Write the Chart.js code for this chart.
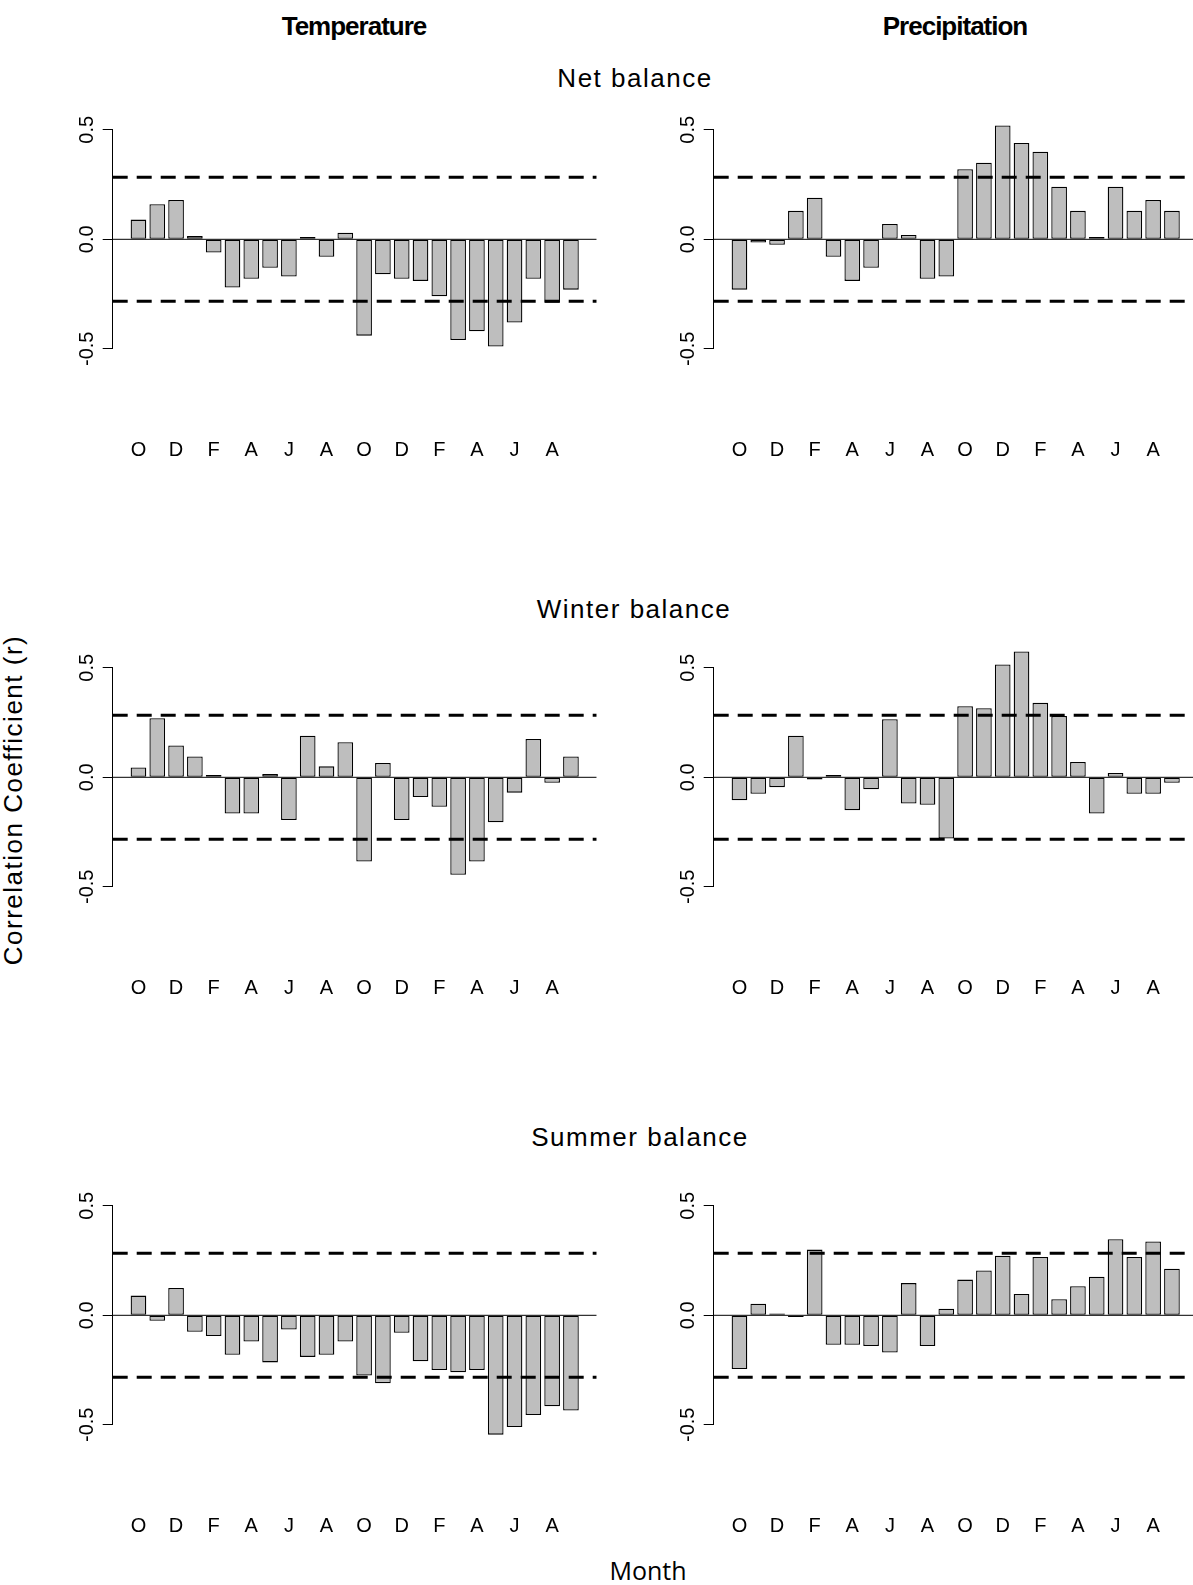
<!DOCTYPE html>
<html>
<head>
<meta charset="utf-8">
<title>Mass balance vs monthly climate</title>
<script src="https://cdn.jsdelivr.net/npm/chart.js@4.4.1/dist/chart.umd.min.js"></script>
<style>
  html, body { margin: 0; padding: 0; background: #fff; overflow: hidden; }
  body { position: relative; width: 1193px; height: 1585px; font-family: 'Liberation Sans', Arial, sans-serif; color: #000; }
  canvas { position: absolute; }
  .lbl { position: absolute; white-space: nowrap; line-height: 1; transform: translateX(-50%); }
  .col { font-weight: bold; font-size: 26px; letter-spacing: -1px; }
  .row { font-size: 26px; letter-spacing: 1.5px; }
  .ylab { position: absolute; white-space: nowrap; line-height: 1; font-size: 26px; letter-spacing: 1.5px;
          transform: translate(-50%, -50%) rotate(-90deg); }
  .xlab { font-family: 'Open Sans', 'Noto Sans', sans-serif; font-size: 25px; }
</style>
</head>
<body>
<div class="lbl col" style="left:354px; top:13px;">Temperature</div>
<div class="lbl col" style="left:955px; top:13px;">Precipitation</div>
<div class="lbl row" style="left:635px; top:65px;">Net balance</div>
<div class="lbl row" style="left:634px; top:596px;">Winter balance</div>
<div class="lbl row" style="left:640px; top:1124px;">Summer balance</div>
<div class="ylab" style="left:13px; top:800px;">Correlation Coefficient (r)</div>
<div class="lbl xlab" style="left:648px; top:1558px;">Month</div>

<canvas id="netT"></canvas>
<canvas id="netP"></canvas>
<canvas id="winT"></canvas>
<canvas id="winP"></canvas>
<canvas id="sumT"></canvas>
<canvas id="sumP"></canvas>

<script>
// 24 months: Oct of the previous year through Sep of the balance year
const months = ['O','N','D','J','F','M','A','M','J','J','A','S',
                'O','N','D','J','F','M','A','M','J','J','A','S'];

const netTemp = [0.09, 0.16, 0.18, 0.015, -0.06, -0.22, -0.18, -0.13, -0.17, 0.01, -0.08, 0.03,
                 -0.44, -0.16, -0.18, -0.19, -0.26, -0.46, -0.42, -0.49, -0.38, -0.18, -0.29, -0.23];
const netPrecip = [-0.23, -0.015, -0.025, 0.13, 0.19, -0.08, -0.19, -0.13, 0.07, 0.02, -0.18, -0.17,
                   0.32, 0.35, 0.52, 0.44, 0.40, 0.24, 0.13, 0.01, 0.24, 0.13, 0.18, 0.13];
const winterTemp = [0.045, 0.27, 0.145, 0.095, 0.01, -0.165, -0.165, 0.015, -0.195, 0.19, 0.05, 0.16,
                    -0.385, 0.065, -0.195, -0.09, -0.135, -0.445, -0.385, -0.205, -0.07, 0.175, -0.025, 0.095];
const winterPrecip = [-0.105, -0.075, -0.045, 0.19, -0.01, 0.01, -0.15, -0.055, 0.265, -0.12, -0.125, -0.28,
                      0.325, 0.315, 0.515, 0.575, 0.34, 0.28, 0.07, -0.165, 0.02, -0.075, -0.075, -0.025];
const summerTemp = [0.09, -0.025, 0.125, -0.075, -0.095, -0.18, -0.12, -0.215, -0.065, -0.19, -0.18, -0.12,
                    -0.275, -0.31, -0.08, -0.21, -0.25, -0.26, -0.25, -0.545, -0.51, -0.455, -0.415, -0.435];
const summerPrecip = [-0.245, 0.053, 0.008, -0.008, 0.30, -0.135, -0.135, -0.14, -0.17, 0.147, -0.14, 0.03,
                      0.163, 0.205, 0.272, 0.097, 0.266, 0.073, 0.133, 0.176, 0.347, 0.266, 0.337, 0.213];

const yTicks = [-0.5, 0, 0.5];
const sigLevel = 0.283;   // 95% significance threshold for r

// barplot geometry: bar width 1, space 0.2, axis range padded by 4%
const X_MIN = -0.944, X_MAX = 29.944;
const Y_MIN = -0.6, Y_MAX = 0.6;
const PX_PER_R = 219;
const AXIS_W = 112.7;     // room left of the plot region
const X_AXIS_H = 120;
const FONT = "'Liberation Sans', Arial, sans-serif";

// axis line spanning only the labelled ticks, plus rotated tick labels
const rAxis = {
  id: 'rAxis',
  afterDraw(chart) {
    const { ctx, chartArea } = chart;
    const y = chart.scales.y;
    const x0 = Math.round(chartArea.left) - 0.5;
    ctx.save();
    ctx.strokeStyle = '#000';
    ctx.lineWidth = 1;
    ctx.beginPath();
    ctx.moveTo(x0, y.getPixelForValue(yTicks[yTicks.length - 1]));
    ctx.lineTo(x0, y.getPixelForValue(yTicks[0]));
    ctx.stroke();
    ctx.fillStyle = '#000';
    ctx.font = '20px ' + FONT;
    ctx.textAlign = 'center';
    ctx.textBaseline = 'alphabetic';
    yTicks.forEach(v => {
      ctx.save();
      ctx.translate(chartArea.left - 19.4, y.getPixelForValue(v));
      ctx.rotate(-Math.PI / 2);
      ctx.fillText(v.toFixed(1), 0, 0);
      ctx.restore();
    });
    ctx.restore();
  }
};

function hline(yv, width, dash) {
  return {
    type: 'line',
    data: [{ x: X_MIN, y: yv }, { x: X_MAX, y: yv }],
    borderColor: '#000',
    borderWidth: width,
    borderDash: dash,
    borderCapStyle: 'butt',
    pointRadius: 0,
    order: 1
  };
}

function drawPanel(id, values, left, zeroY) {
  const canvas = document.getElementById(id);
  const areaTop = zeroY - Y_MAX * PX_PER_R;
  const areaH = (Y_MAX - Y_MIN) * PX_PER_R;
  const top = Math.floor(areaTop) - 10;
  const padTop = areaTop - top;
  const w = 600, h = Math.ceil(padTop + areaH + X_AXIS_H);
  canvas.width = w;
  canvas.height = h;
  canvas.style.left = left + 'px';
  canvas.style.top = top + 'px';

  const mids = values.map((v, i) => 0.7 + 1.2 * i);

  new Chart(canvas, {
    type: 'bar',
    data: {
      datasets: [
        {
          type: 'bar',
          data: values.map((v, i) => ({ x: mids[i], y: v })),
          backgroundColor: '#bebebe',
          borderColor: '#000',
          borderWidth: 1.3,
          borderSkipped: false,
          barPercentage: 1 / 1.2,
          categoryPercentage: 1,
          order: 2
        },
        hline(0, 1, []),
        hline(sigLevel, 3, [15, 9]),
        hline(-sigLevel, 3, [15, 9])
      ]
    },
    options: {
      responsive: false,
      animation: false,
      events: [],
      layout: { padding: { left: 0, right: 3.3, top: padTop, bottom: h - padTop - areaH - X_AXIS_H } },
      plugins: { legend: { display: false }, tooltip: { enabled: false } },
      scales: {
        x: {
          type: 'linear',
          offset: false,
          bounds: 'data',
          min: X_MIN,
          max: X_MAX,
          // tick marks hidden; their length only pushes the month letters down
          grid: { display: false, drawTicks: true, tickLength: 67.7 },
          border: { display: false },
          afterBuildTicks: s => { s.ticks = mids.map(v => ({ value: v })); },
          afterFit: s => { s.height = X_AXIS_H; },
          ticks: {
            autoSkip: false,
            maxRotation: 0,
            minRotation: 0,
            padding: 0,
            color: '#000',
            font: { family: FONT, size: 20 },
            callback: (v, i) => (i % 2 ? '' : months[i])
          }
        },
        y: {
          type: 'linear',
          bounds: 'data',
          min: Y_MIN,
          max: Y_MAX,
          border: { display: false },
          grid: { drawOnChartArea: false, drawTicks: true, tickLength: 10, color: '#000', lineWidth: 1 },
          afterBuildTicks: s => { s.ticks = yTicks.map(v => ({ value: v })); },
          afterFit: s => { s.width = AXIS_W; },
          ticks: { display: false }
        }
      }
    },
    plugins: [rAxis]
  });
}

const colLeft = [0, 600.6];
const rowZero = [239.3, 777.3, 1315.3];

drawPanel('netT', netTemp, colLeft[0], rowZero[0]);
drawPanel('netP', netPrecip, colLeft[1], rowZero[0]);
drawPanel('winT', winterTemp, colLeft[0], rowZero[1]);
drawPanel('winP', winterPrecip, colLeft[1], rowZero[1]);
drawPanel('sumT', summerTemp, colLeft[0], rowZero[2]);
drawPanel('sumP', summerPrecip, colLeft[1], rowZero[2]);
</script>
</body>
</html>
